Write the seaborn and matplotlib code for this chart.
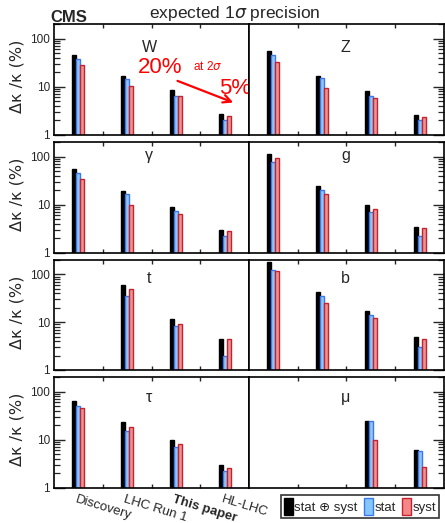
import numpy as np
import pandas as pd
import matplotlib
matplotlib.use("Agg")
import matplotlib.pyplot as plt
from matplotlib.patches import Patch
from matplotlib.ticker import LogLocator, NullFormatter
import seaborn as sns

sns.set_style("ticks")
plt.rcParams['font.family'] = ['Liberation Sans', 'DejaVu Sans']
plt.rcParams['mathtext.fontset'] = 'dejavusans'

# ---------------- data ----------------
categories = ["Discovery", "LHC Run 1", "This paper", "HL-LHC"]
series = ["stat ⊕ syst", "stat", "syst"]
couplings = ["W", "Z", "γ", "g", "t", "b", "τ", "μ"]

# values (%) per coupling: [total, stat, syst] per category (None = not available)
W_tot = [45, 17, 8.5, 2.7];   W_stat = [37, 14.5, 6.5, 2.0];  W_syst = [28, 10.3, 6.3, 2.5]
Z_tot = [55, 17, 8.1, 2.6];   Z_stat = [45, 15, 6.5, 2.0];    Z_syst = [32, 9.3, 5.9, 2.4]
A_tot = [55, 19, 8.8, 3.0];   A_stat = [45, 17, 7.3, 2.2];    A_syst = [35, 9.8, 6.3, 2.8]
G_tot = [115, 25, 9.8, 3.5];  G_stat = [78, 20, 7.0, 2.2];    G_syst = [92, 17, 8.0, 3.3]
T_tot = [None, 60, 11.5, 4.5]; T_stat = [None, 35, 8.5, 2.0]; T_syst = [None, 50, 9.3, 4.5]
B_tot = [180, 42, 17, 5.0];   B_stat = [125, 35, 14, 3.0];    B_syst = [120, 25, 12, 4.5]
TAU_tot = [65, 23, 10, 3.0];  TAU_stat = [49, 15, 7.0, 2.2];  TAU_syst = [46, 18.5, 8.0, 2.6]
MU_tot = [None, None, 24, 6.0]; MU_stat = [None, None, 24, 5.8]; MU_syst = [None, None, 9.8, 2.7]

panel_values = {
    "W": (W_tot, W_stat, W_syst),
    "Z": (Z_tot, Z_stat, Z_syst),
    "γ": (A_tot, A_stat, A_syst),
    "g": (G_tot, G_stat, G_syst),
    "t": (T_tot, T_stat, T_syst),
    "b": (B_tot, B_stat, B_syst),
    "τ": (TAU_tot, TAU_stat, TAU_syst),
    "μ": (MU_tot, MU_stat, MU_syst),
}

# ---------------- style ----------------
face = {"stat ⊕ syst": "black", "stat": "#86c6ff", "syst": "#f28888"}
edge = {"stat ⊕ syst": "black", "stat": "#3a78f0", "syst": "#c8202c"}

W_PX, H_PX = 445, 523
fig = plt.figure(figsize=(W_PX / 100, H_PX / 100), dpi=100)

rows_px = [(24, 135), (142, 253), (260, 370), (377, 488)]
cols_px = [(54, 249), (249, 444)]
label_baseline = [53, 85, 66, 60]

for r, (top, bot) in enumerate(rows_px):
    for c, (lft, rgt) in enumerate(cols_px):
        name = couplings[2 * r + c]
        ax = fig.add_axes([lft / W_PX, 1 - bot / H_PX, (rgt - lft) / W_PX, (bot - top) / H_PX])
        tot, stat, syst = panel_values[name]
        recs = []
        for s, vals in zip(series, (tot, stat, syst)):
            for cat, v in zip(categories, vals):
                if v is not None:
                    recs.append({"cat": cat, "series": s, "val": v})
        df = pd.DataFrame(recs)
        sns.barplot(data=df, x="cat", y="val", hue="series", order=categories,
                    hue_order=series, palette=face, width=0.25, dodge=True,
                    errorbar=None, legend=False, ax=ax, linewidth=1.0)
        for cont, s in zip(ax.containers, series):
            for p in cont.patches:
                p.set_edgecolor(edge[s])
                p.set_linewidth(1.0)
        ax.set_yscale("log")
        ax.set_ylim(1, 200)
        ax.set_xlim(-0.5, 3.5)
        ax.set_xlabel("")
        ax.set_ylabel("")
        ax.set_xticks([0.5, 1.5, 2.5])
        ax.set_xticklabels([])
        ax.tick_params(axis="x", which="both", direction="in", top=True, bottom=True,
                       length=3, width=1, labelbottom=False)
        ax.set_yticks([1, 10, 100])
        ax.yaxis.set_minor_locator(LogLocator(base=10, subs=np.arange(2, 10)))
        ax.yaxis.set_minor_formatter(NullFormatter())
        if c == 0:
            ax.set_yticklabels(["1", "10", "100"])
            ax.tick_params(axis="y", which="both", direction="in", left=True, right=False,
                           labelleft=True, labelsize=8.5, pad=3)
        else:
            ax.set_yticklabels([])
            ax.tick_params(axis="y", which="both", direction="in", left=False, right=True,
                           labelleft=False)
        ax.tick_params(axis="y", which="major", length=8, width=1)
        ax.tick_params(axis="y", which="minor", length=4.5, width=0.9)
        for sp in ax.spines.values():
            sp.set_visible(True)
            sp.set_linewidth(1.2)
            sp.set_color("black")
        ax.text(1.45 if c == 0 else 1.48, label_baseline[r], name, ha="center",
                va="baseline", fontsize=11.5)
        if c == 0:
            fig.text(17 / W_PX, 1 - ((top + bot) / 2 - 3) / H_PX, "Δκ /κ (%)", rotation=90,
                     ha="center", va="center", fontsize=11.5,
                     family=["DejaVu Sans"])
        if r == 0 and c == 0:
            ax.text(1.22, 19.4, "20%", color="red", fontsize=16, ha="left", va="baseline")
            ax.text(2.35, 21.9, r"at 2$\sigma$", color="red", fontsize=8.5, ha="left",
                    va="baseline")
            ax.text(2.88, 7.1, "5%", color="red", fontsize=16, ha="left", va="baseline",
                    clip_on=False, zorder=10)
            ax.annotate("", xy=(3.23, 4.5), xytext=(1.98, 13.9),
                        arrowprops=dict(arrowstyle="->", color="red", lw=1.6,
                                        mutation_scale=14))
        if r == 3 and c == 0:
            for i, cat in enumerate(categories):
                ax.text(i - 0.03, -0.05, cat, transform=ax.get_xaxis_transform(),
                        ha="left", va="top", rotation=-17, rotation_mode="anchor",
                        fontsize=9.5, fontweight="bold" if cat == "This paper" else "normal")

fig.text(235 / W_PX, 1 - 18 / H_PX, r"expected 1$\sigma$ precision", ha="center",
         va="baseline", fontsize=12.5)
fig.text(50 / W_PX, 1 - 22.5 / H_PX, "CMS", ha="left", va="baseline", fontsize=12,
         fontweight="bold")

handles = [Patch(facecolor=face[s], edgecolor=edge[s], linewidth=1.0) for s in series]
leg = fig.legend(handles, series, loc="upper left", ncol=3,
                 bbox_to_anchor=(281 / W_PX, 1 - 495 / H_PX), frameon=True,
                 fancybox=False, edgecolor="black", fontsize=9.5,
                 handlelength=0.7, handleheight=1.7, handletextpad=0.12,
                 columnspacing=0.45, borderpad=0.2, borderaxespad=0)
leg.get_frame().set_linewidth(1.2)

fig.savefig("out.png", dpi=100)
